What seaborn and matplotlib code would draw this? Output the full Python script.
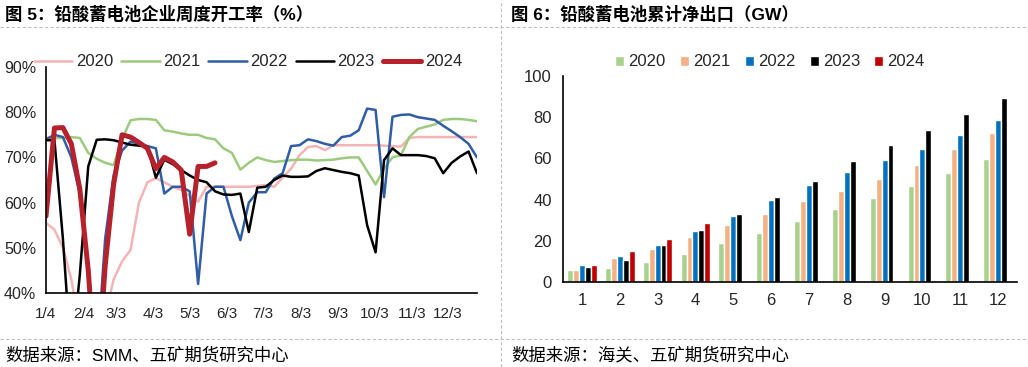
import numpy as np
import pandas as pd
import matplotlib
matplotlib.use('Agg')
import matplotlib.pyplot as plt
from matplotlib.lines import Line2D
from matplotlib.ticker import PercentFormatter, FixedLocator
import seaborn as sns

# ---- left chart: weekly operating rate (%), first week = 1/4 ----
years = ['2020', '2021', '2022', '2023', '2024']

rate_2020 = [55.5, 54, 50, 43, 32, 30, 30, 35, 43, 47, 49.5, 60, 64.5, 65.4, 64.5, 63.5,
             62.8, 61.5, 60.2, 63.5, 63.5, 63.5, 63.5, 63.5, 63.5, 63.7, 63.9, 63.5, 65.5,
             67.5, 70.5, 72.3, 72.5, 71.6, 72.7, 72.7, 72.7, 72.7, 72.7, 72.7, 72.6, 72.5,
             72.4, 74.3, 74.5, 74.5, 74.5, 74.5, 74.5, 74.5, 74.5, 74.5]
rate_2021 = [74.3, 74.3, 74.3, 74.5, 74.3, 71, 69.7, 68.8, 68.3, 74, 78.2, 78.5, 78.5, 78.3,
             76, 75.7, 75.3, 75, 75, 74.3, 74, 72, 71, 67.3, 68.8, 70, 69.4, 69, 69.2, 69.4,
             69.5, 69.5, 69.3, 69.4, 69.5, 69.8, 70, 70, 67, 64, 67.5, 70, 70.5, 74.5, 76.3,
             76.8, 77.3, 78.3, 78.5, 78.5, 78.3, 78]
rate_2022 = [74, 75, 74.5, 70, 62, 46, 25, 52, 66, 71.5, 73.5, 73, 72.5, 72, 62, 63.5, 63.5,
             62.5, 42, 62, 63.5, 63.5, 57, 51.7, 60, 62.3, 62.3, 65.3, 66.5, 72.5, 72.7, 74,
             73.6, 73, 72.6, 74.5, 74.8, 76, 80.8, 80.5, 61.2, 79, 79.4, 79.5, 78.9, 78.6,
             78.3, 77, 75.8, 74.5, 73, 70]
rate_2023 = [73.8, 73.8, 52, 25, 44, 68, 73.9, 74, 73.8, 73.3, 72.8, 72.6, 72.4, 65.5, 69.5,
             68.5, 67.2, 66, 65, 64.5, 62.5, 61.8, 61.7, 62, 53.5, 63.3, 63.5, 65, 66, 65.7,
             65.7, 65.8, 67, 67.6, 67.2, 66.8, 66.5, 66, 55, 49, 69.4, 72, 70.5, 70.5, 70.5,
             70.3, 69.8, 66.5, 68.8, 70.2, 71.3, 66.5]
rate_2024 = [57, 76.5, 76.6, 73, 63, 45, 19, 46, 64, 75, 74.5, 73.3, 72, 67.5, 70, 69, 67.2,
             53, 68, 68, 68.8]

month_ticks = ['1/4', '2/4', '3/3', '4/3', '5/3', '6/3', '7/3', '8/3', '9/3', '10/3', '11/3', '12/3']

# ---- right chart: cumulative net export (GW) by month ----
months = [str(m) for m in range(1, 13)]
export_2020 = [5.7, 6.8, 9.9, 13.7, 18.9, 24.0, 29.6, 35.4, 40.9, 46.7, 52.7, 59.8]
export_2021 = [6.0, 11.6, 16.2, 21.8, 27.6, 33.0, 39.1, 44.3, 50.0, 56.9, 64.7, 72.3]
export_2022 = [8.4, 12.8, 17.9, 24.6, 31.8, 39.7, 46.9, 53.3, 59.2, 64.7, 71.2, 78.8]
export_2023 = [7.1, 10.8, 17.9, 25.4, 33.1, 41.4, 49.1, 58.6, 66.3, 73.8, 81.7, 89.5]
export_2024 = [8.4, 15.0, 21.0, 28.6]

sns.set_theme(style='white')
plt.rcParams['font.family'] = ['Liberation Sans', 'Noto Sans CJK SC']
plt.rcParams['axes.unicode_minus'] = False

txt = '#262626'

# long tables
rates = {'2020': rate_2020, '2021': rate_2021, '2022': rate_2022, '2023': rate_2023, '2024': rate_2024}
line_df = pd.concat([pd.DataFrame({'day': 7 * np.arange(len(v)), 'rate': v, 'year': k})
                     for k, v in rates.items()], ignore_index=True)

exports = {'2020': export_2020, '2021': export_2021, '2022': export_2022,
           '2023': export_2023, '2024': export_2024}
bar_df = pd.concat([pd.DataFrame({'month': months[:len(v)], 'value': v, 'year': k})
                    for k, v in exports.items()], ignore_index=True)

start = pd.Timestamp(2023, 1, 4)
tick_days = [(pd.Timestamp(2023, int(t.split('/')[0]), int(t.split('/')[1])) - start).days
             for t in month_ticks]

fig = plt.figure(figsize=(10.28, 3.67), dpi=100)

# ---------------- left: line chart ----------------
ax1 = fig.add_axes([46 / 1028, 1 - 293 / 367, (477 - 46) / 1028, (293 - 67) / 367])
line_pal = {'2020': '#F4B4B4', '2021': '#9DCB7E', '2022': '#2F5DA6', '2023': '#000000', '2024': '#B5222B'}
line_sizes = {'2020': 1.8, '2021': 1.8, '2022': 1.8, '2023': 1.8, '2024': 3.6}
sns.lineplot(data=line_df, x='day', y='rate', hue='year', size='year', palette=line_pal,
             sizes=line_sizes, hue_order=years, size_order=years, ax=ax1)
ax1.set_xlim(0, 357)
ax1.set_ylim(40, 90)
ax1.set_yticks(range(40, 91, 10))
ax1.yaxis.set_major_formatter(PercentFormatter(xmax=100, decimals=0))
ax1.set_xticks(tick_days)
ax1.set_xticklabels(month_ticks)
ax1.set_xlabel('')
ax1.set_ylabel('')
for s in ['top', 'right']:
    ax1.spines[s].set_visible(False)
for s in ['left', 'bottom']:
    ax1.spines[s].set_color('#000000')
    ax1.spines[s].set_linewidth(1.2)
ax1.tick_params(axis='both', direction='out', length=5, width=1, color='#000000',
                labelcolor=txt)
ax1.tick_params(axis='y', labelsize=11.5, pad=2)
ax1.tick_params(axis='x', labelsize=11, pad=5)
sns.move_legend(ax1, 'center', bbox_to_anchor=(248 / 1028, 1 - 62 / 367),
                bbox_transform=fig.transFigure, ncol=5, frameon=False, title=None,
                fontsize=12, handlelength=2.3, handletextpad=0.2, columnspacing=0.5)
for t in ax1.get_legend().get_texts():
    t.set_color(txt)

# ---------------- right: grouped bars ----------------
ax2 = fig.add_axes([563 / 1028, 1 - 282 / 367, (1017 - 563) / 1028, (282 - 76) / 367])
bar_pal = {'2020': '#A9D18E', '2021': '#F4B183', '2022': '#0070C0', '2023': '#000000', '2024': '#C00000'}
sns.barplot(data=bar_df, x='month', y='value', hue='year', order=months, hue_order=years,
            palette=bar_pal, width=0.78, saturation=1, ax=ax2)
ax2.set_xlim(-0.5, 11.5)
ax2.set_ylim(0, 100)
ax2.set_yticks(range(0, 101, 20))
ax2.set_xlabel('')
ax2.set_ylabel('')
for s in ['top', 'right']:
    ax2.spines[s].set_visible(False)
for s in ['left', 'bottom']:
    ax2.spines[s].set_color('#000000')
    ax2.spines[s].set_linewidth(1.2)
ax2.xaxis.set_minor_locator(FixedLocator(np.arange(-0.5, 12, 1)))
ax2.tick_params(axis='x', which='major', length=0, pad=8, labelsize=12, labelcolor=txt)
ax2.tick_params(axis='x', which='minor', direction='out', length=5, width=1, color='#000000')
ax2.tick_params(axis='y', direction='out', length=4, width=1, color='#000000',
                labelsize=12, labelcolor=txt, pad=4)
sns.move_legend(ax2, 'center', bbox_to_anchor=(770 / 1028, 1 - 62 / 367),
                bbox_transform=fig.transFigure, ncol=5, frameon=False, title=None,
                fontsize=12, handlelength=0.55, handleheight=0.55, handletextpad=0.25,
                columnspacing=0.85)
for t in ax2.get_legend().get_texts():
    t.set_color(txt)

# ---------------- titles, sources, separators ----------------
fig.text(5 / 1028, 1 - 14 / 367, '图 5：铅酸蓄电池企业周度开工率（%）', fontsize=12.5,
         fontweight='bold', va='center', ha='left', color='#000000')
fig.text(511 / 1028, 1 - 14 / 367, '图 6：铅酸蓄电池累计净出口（GW）', fontsize=12.5,
         fontweight='bold', va='center', ha='left', color='#000000')
fig.text(5 / 1028, 1 - 355 / 367, '数据来源：SMM、五矿期货研究中心', fontsize=12.5,
         va='center', ha='left', color='#000000')
fig.text(511 / 1028, 1 - 355 / 367, '数据来源：海关、五矿期货研究中心', fontsize=12.5,
         va='center', ha='left', color='#000000')

dash = dict(color='#BFBFBF', linewidth=0.8, linestyle=(0, (3, 2)))
fig.add_artist(Line2D([0, 1], [1 - 27 / 367, 1 - 27 / 367], transform=fig.transFigure, **dash))
fig.add_artist(Line2D([0, 1], [1 - 339 / 367, 1 - 339 / 367], transform=fig.transFigure, **dash))
fig.add_artist(Line2D([501 / 1028, 501 / 1028], [0, 1], transform=fig.transFigure, **dash))

fig.savefig('out.png', dpi=100)
